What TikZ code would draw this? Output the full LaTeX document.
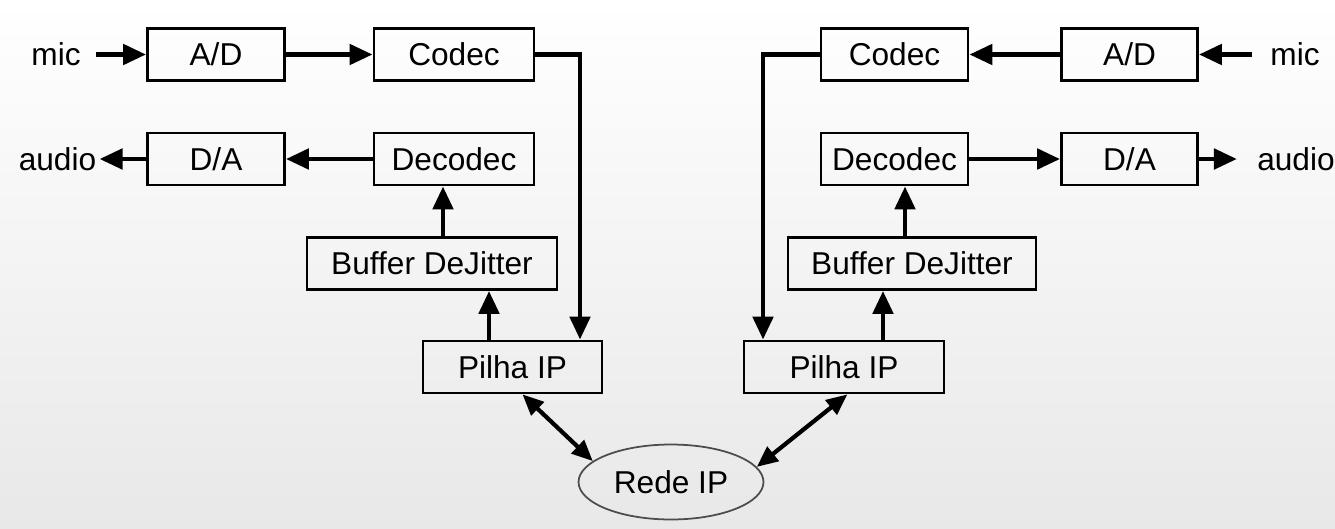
\documentclass[tikz,border=0pt]{standalone}
\usepackage{fontspec}
\setmainfont{Liberation Sans}
\usetikzlibrary{arrows.meta,shapes.geometric}

\begin{document}
\begin{tikzpicture}[x=0.02cm,y=-0.02cm,
    bloco/.style={draw,line width=1.6pt,minimum height=1.04cm,inner sep=0pt},
    rotulo/.style={inner sep=0pt},
    seta/.style={line width=2.8pt,-{Triangle[length=0.46cm,width=0.4cm]}},
    dupla/.style={line width=2.4pt,{Triangle[length=0.42cm,width=0.36cm]}-{Triangle[length=0.42cm,width=0.36cm]}},
    font=\fontsize{18}{20}\selectfont]
    \shade[top color=white,bottom color=gray!18] (0,0) rectangle (1335,528);
    \useasboundingbox (0,0) rectangle (1335,528);
    % lado esquerdo
    \node[rotulo] (micL) at (56,54.5) {mic};
    \node[rotulo] (audioL) at (57.5,159) {audio};
    \node[bloco,minimum width=2.74cm] (adL) at (216,54.5) {A/D};
    \node[bloco,minimum width=3.2cm] (codecL) at (454,54.5) {Codec};
    \node[bloco,minimum width=2.74cm] (daL) at (216,159) {D/A};
    \node[bloco,minimum width=3.2cm] (decodecL) at (454,159) {Decodec};
    \node[bloco,minimum width=5cm] (bufferL) at (432,263.5) {Buffer DeJitter};
    \node[bloco,minimum width=3.58cm] (pilhaL) at (512.5,367) {Pilha IP};
    \coordinate (turnL) at (580,54.5);
    % lado direito
    \node[rotulo] (micR) at (1295,54.5) {mic};
    \node[rotulo] (audioR) at (1296,159) {audio};
    \node[bloco,minimum width=2.94cm] (codecR) at (894.5,54.5) {Codec};
    \node[bloco,minimum width=2.72cm] (adR) at (1129.5,54.5) {A/D};
    \node[bloco,minimum width=2.94cm] (decodecR) at (894.5,159) {Decodec};
    \node[bloco,minimum width=2.72cm] (daR) at (1129.5,159) {D/A};
    \node[bloco,minimum width=4.96cm] (bufferR) at (912,263.5) {Buffer DeJitter};
    \node[bloco,minimum width=4cm] (pilhaR) at (844,367) {Pilha IP};
    \coordinate (turnR) at (763,54.5);
    % rede
    \node[ellipse,draw=black!70,line width=1pt,minimum width=3.7cm,minimum height=1.5cm,inner sep=0pt] (rede) at (671,482) {Rede IP};

    \draw[seta,shorten <=0.3cm] (micL.east) -- (adL.west);
    \draw[seta] (adL.east) -- (codecL.west);
    \draw[seta] (codecL.east) -- (turnL) -- (turnL |- pilhaL.north);
    \draw[seta] (decodecL.west) -- (daL.east);
    \draw[seta,shorten >=0.06cm] (daL.west) -- (audioL.east);
    \draw[seta] ([xshift=0.22cm]bufferL.north) -- ([xshift=0.22cm]bufferL.north |- decodecL.south);
    \draw[seta] ([xshift=-0.47cm]pilhaL.north) -- ([xshift=-0.47cm]pilhaL.north |- bufferL.south);

    \draw[seta,shorten <=0.36cm] (micR.west) -- (adR.east);
    \draw[seta] (adR.west) -- (codecR.east);
    \draw[seta] (codecR.west) -- (turnR) -- (turnR |- pilhaR.north);
    \draw[seta] (decodecR.east) -- (daR.west);
    \draw[seta,shorten >=0.4cm] (daR.east) -- (audioR.west);
    \draw[seta] ([xshift=-0.14cm]bufferR.north) -- ([xshift=-0.14cm]bufferR.north |- decodecR.south);
    \draw[seta] ([xshift=0.78cm]pilhaR.north) -- ([xshift=0.78cm]pilhaR.north |- bufferR.south);

    \draw[dupla] (pilhaL.-70) -- (rede.165);
    \draw[dupla] (pilhaR.-83) -- (rede.10);
\end{tikzpicture}
\end{document}
